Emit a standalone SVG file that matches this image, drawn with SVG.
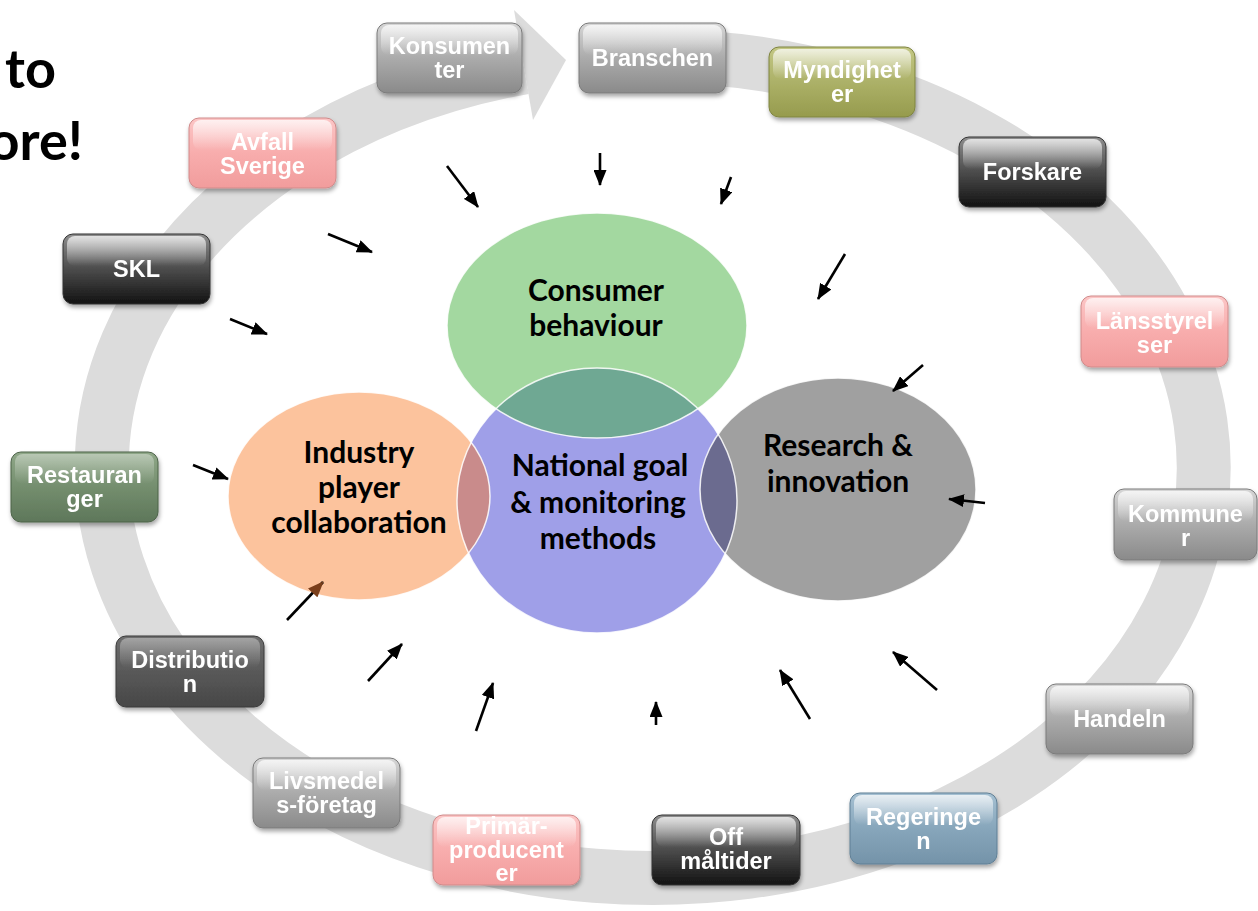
<svg xmlns="http://www.w3.org/2000/svg" width="1258" height="911" viewBox="0 0 1258 911">
<defs>
<style>
.bt{font-family:"Liberation Sans",Arial,sans-serif;font-weight:bold;font-size:23.5px;fill:#fff;text-anchor:middle}
.ct{font-family:Lato,"Open Sans",sans-serif;font-weight:bold;font-size:30px;fill:#000;text-anchor:middle}
.tt{font-family:Lato,"Open Sans",sans-serif;font-weight:bold;font-size:54px;fill:#000;text-anchor:end}
.hl{fill:url(#gHl)}
.bx{stroke-width:1}
.edge{fill:none;stroke:#fff;stroke-width:1.5;stroke-opacity:0.85}
.ar{stroke:#000;stroke-width:2.6;fill:none;marker-end:url(#ah)}
</style>
<linearGradient id="gGray" x1="0" y1="0" x2="0" y2="1"><stop offset="0" stop-color="#d6d6d6"/><stop offset="0.5" stop-color="#ababab"/><stop offset="1" stop-color="#8a8a8a"/></linearGradient>
<linearGradient id="gDark" x1="0" y1="0" x2="0" y2="1"><stop offset="0" stop-color="#8e8e8e"/><stop offset="0.5" stop-color="#4c4c4c"/><stop offset="1" stop-color="#121212"/></linearGradient>
<linearGradient id="gDg" x1="0" y1="0" x2="0" y2="1"><stop offset="0" stop-color="#6e6e6e"/><stop offset="0.5" stop-color="#595959"/><stop offset="1" stop-color="#474747"/></linearGradient>
<linearGradient id="gPink" x1="0" y1="0" x2="0" y2="1"><stop offset="0" stop-color="#fcc6c6"/><stop offset="0.5" stop-color="#f8adad"/><stop offset="1" stop-color="#f19c9c"/></linearGradient>
<linearGradient id="gOlive" x1="0" y1="0" x2="0" y2="1"><stop offset="0" stop-color="#c3c784"/><stop offset="0.5" stop-color="#acb168"/><stop offset="1" stop-color="#969b4d"/></linearGradient>
<linearGradient id="gBlue" x1="0" y1="0" x2="0" y2="1"><stop offset="0" stop-color="#a5c0d2"/><stop offset="0.5" stop-color="#87a6bb"/><stop offset="1" stop-color="#7493a9"/></linearGradient>
<linearGradient id="gGreen" x1="0" y1="0" x2="0" y2="1"><stop offset="0" stop-color="#8fa788"/><stop offset="0.5" stop-color="#748e6e"/><stop offset="1" stop-color="#5e775a"/></linearGradient>
<linearGradient id="gHl" x1="0" y1="0" x2="0" y2="1"><stop offset="0" stop-color="#fff" stop-opacity="0.75"/><stop offset="1" stop-color="#fff" stop-opacity="0"/></linearGradient>
<filter id="sh" x="-10%" y="-10%" width="125%" height="135%"><feDropShadow dx="1" dy="3" stdDeviation="2" flood-color="#000" flood-opacity="0.35"/></filter>
<marker id="ah" viewBox="0 0 16 13" refX="15" refY="6.5" markerWidth="16" markerHeight="13" markerUnits="userSpaceOnUse" orient="auto"><path d="M0,0 L16,6.5 L0,13 z" fill="#000"/></marker>
<marker id="ahb" viewBox="0 0 16 13" refX="15" refY="6.5" markerWidth="16" markerHeight="13" markerUnits="userSpaceOnUse" orient="auto"><path d="M0,0 L16,6.5 L0,13 z" fill="#7a3f1c"/></marker>
<clipPath id="cPurple"><ellipse cx="597" cy="500.5" rx="140" ry="132.5"/></clipPath>
</defs>
<rect width="1258" height="911" fill="#fff"/>

<!-- title fragments -->
<g id="title">
<text class="tt" x="56" y="88">to</text>
<text class="tt" x="83" y="160">ore!</text>
</g>

<!-- circular arrow band -->
<g id="cycle">
<path d="M590,58.7 A551,411 0 1 1 524,67.4" fill="none" stroke="#dcdcdc" stroke-width="54"/>
<polygon points="514,10 533,120 566,60" fill="#dcdcdc"/>
</g>

<!-- central ellipses -->
<g id="n-national">
<ellipse cx="597" cy="500.5" rx="140" ry="132.5" fill="#9f9fe8"/>
</g>
<g id="n-industry">
<ellipse cx="359" cy="496" rx="131" ry="104" fill="#fcc39d"/>
</g>
<g id="n-research">
<ellipse cx="838" cy="489.5" rx="138" ry="111.5" fill="#a0a0a0"/>
</g>
<g id="n-consumer">
<ellipse cx="597" cy="325.5" rx="150" ry="112.5" fill="#a3d8a0"/>
</g>
<g id="overlaps" clip-path="url(#cPurple)">
<ellipse cx="597" cy="325.5" rx="150" ry="112.5" fill="#6fa893"/>
<ellipse cx="359" cy="496" rx="131" ry="104" fill="#c98b8b"/>
<ellipse cx="838" cy="489.5" rx="138" ry="111.5" fill="#6b6b8f"/>
</g>
<g id="edges">
<ellipse class="edge" cx="597" cy="500.5" rx="140" ry="132.5"/>
<ellipse class="edge" cx="359" cy="496" rx="131" ry="104"/>
<ellipse class="edge" cx="838" cy="489.5" rx="138" ry="111.5"/>
<ellipse class="edge" cx="597" cy="325.5" rx="150" ry="112.5"/>
</g>
<g id="labels">
<text class="ct" x="596" y="301">Consumer</text>
<text class="ct" x="596" y="336">behaviour</text>
<text class="ct" x="359" y="463">Industry</text>
<text class="ct" x="359" y="498">player</text>
<text class="ct" x="359" y="533">collaboration</text>
<text class="ct" x="600" y="476">National goal</text>
<text class="ct" x="598" y="513">&amp; monitoring</text>
<text class="ct" x="598" y="549">methods</text>
<text class="ct" x="838" y="456">Research &amp;</text>
<text class="ct" x="838" y="492">innovation</text>
</g>

<!-- connectors -->
<g id="connectors">
<line class="ar" x1="447" y1="166" x2="478" y2="207"/>
<line class="ar" x1="600" y1="153" x2="600" y2="185"/>
<line class="ar" x1="731" y1="177" x2="721" y2="204"/>
<line class="ar" x1="845" y1="254" x2="818" y2="299"/>
<line class="ar" x1="328" y1="234" x2="372" y2="252"/>
<line class="ar" x1="230" y1="319" x2="267" y2="334"/>
<line class="ar" x1="923" y1="365" x2="893" y2="391"/>
<line class="ar" x1="985" y1="503" x2="949" y2="499"/>
<line class="ar" x1="193" y1="465" x2="228" y2="479"/>
<line class="ar" x1="287" y1="620" x2="323" y2="582" style="marker-end:url(#ahb)"/>
<line class="ar" x1="368" y1="681" x2="402" y2="644"/>
<line class="ar" x1="476" y1="731" x2="493" y2="683"/>
<line class="ar" x1="656" y1="725" x2="656" y2="702"/>
<line class="ar" x1="810" y1="719" x2="780" y2="670"/>
<line class="ar" x1="937" y1="690" x2="893" y2="652"/>
</g>

<!-- boxes -->
<g id="n-konsumenter" filter="url(#sh)">
<rect x="377" y="23" width="145" height="70" rx="10" fill="url(#gGray)" stroke="#7a7a7a" class="bx"/>
<rect x="381" y="25" width="137" height="30" rx="8" class="hl"/>
<text class="bt" x="449.5" y="54">Konsumen</text><text class="bt" x="449.5" y="78">ter</text>
</g>
<g id="n-branschen" filter="url(#sh)">
<rect x="579" y="23" width="147" height="70" rx="10" fill="url(#gGray)" stroke="#7a7a7a" class="bx"/>
<rect x="583" y="25" width="139" height="30" rx="8" class="hl"/>
<text class="bt" x="652.5" y="66">Branschen</text>
</g>
<g id="n-myndigheter" filter="url(#sh)">
<rect x="769" y="47" width="146" height="70" rx="10" fill="url(#gOlive)" stroke="#7f8440" class="bx"/>
<rect x="773" y="49" width="138" height="30" rx="8" class="hl"/>
<text class="bt" x="842" y="78">Myndighet</text><text class="bt" x="842" y="102">er</text>
</g>
<g id="n-forskare" filter="url(#sh)">
<rect x="959" y="137" width="147" height="70" rx="10" fill="url(#gDark)" stroke="#333" class="bx"/>
<rect x="963" y="139" width="139" height="30" rx="8" class="hl"/>
<text class="bt" x="1032.5" y="180">Forskare</text>
</g>
<g id="n-lansstyrelser" filter="url(#sh)">
<rect x="1081" y="296" width="147" height="71" rx="10" fill="url(#gPink)" stroke="#d08a8a" class="bx"/>
<rect x="1085" y="298" width="139" height="30" rx="8" class="hl"/>
<text class="bt" x="1154.5" y="329">Länsstyrel</text><text class="bt" x="1154.5" y="353">ser</text>
</g>
<g id="n-kommuner" filter="url(#sh)">
<rect x="1114" y="489" width="143" height="71" rx="10" fill="url(#gGray)" stroke="#7a7a7a" class="bx"/>
<rect x="1118" y="491" width="135" height="30" rx="8" class="hl"/>
<text class="bt" x="1185.5" y="522">Kommune</text><text class="bt" x="1185.5" y="546">r</text>
</g>
<g id="n-handeln" filter="url(#sh)">
<rect x="1046" y="684" width="147" height="70" rx="10" fill="url(#gGray)" stroke="#7a7a7a" class="bx"/>
<rect x="1050" y="686" width="139" height="30" rx="8" class="hl"/>
<text class="bt" x="1119.5" y="727">Handeln</text>
</g>
<g id="n-regeringen" filter="url(#sh)">
<rect x="850" y="793" width="147" height="71" rx="10" fill="url(#gBlue)" stroke="#5f7f95" class="bx"/>
<rect x="854" y="795" width="139" height="30" rx="8" class="hl"/>
<text class="bt" x="923.5" y="825">Regeringe</text><text class="bt" x="923.5" y="849">n</text>
</g>
<g id="n-offmaltider" filter="url(#sh)">
<rect x="652" y="815" width="148" height="70" rx="10" fill="url(#gDark)" stroke="#333" class="bx"/>
<rect x="656" y="817" width="140" height="30" rx="8" class="hl"/>
<text class="bt" x="726" y="845">Off</text><text class="bt" x="726" y="869">måltider</text>
</g>
<g id="n-primarproducenter" filter="url(#sh)">
<rect x="433" y="815" width="147" height="70" rx="10" fill="url(#gPink)" stroke="#d08a8a" class="bx"/>
<rect x="437" y="817" width="139" height="30" rx="8" class="hl"/>
<text class="bt" x="506.5" y="834">Primär-</text><text class="bt" x="506.5" y="858">producent</text><text class="bt" x="506.5" y="881">er</text>
</g>
<g id="n-livsmedelsforetag" filter="url(#sh)">
<rect x="253" y="758" width="147" height="70" rx="10" fill="url(#gGray)" stroke="#7a7a7a" class="bx"/>
<rect x="257" y="760" width="139" height="30" rx="8" class="hl"/>
<text class="bt" x="326.5" y="789">Livsmedel</text><text class="bt" x="326.5" y="813">s-företag</text>
</g>
<g id="n-distribution" filter="url(#sh)">
<rect x="116" y="636" width="148" height="71" rx="10" fill="url(#gDg)" stroke="#3a3a3a" class="bx"/>
<rect x="120" y="638" width="140" height="30" rx="8" class="hl" opacity="0.5"/>
<text class="bt" x="190" y="668">Distributio</text><text class="bt" x="190" y="692">n</text>
</g>
<g id="n-restauranger" filter="url(#sh)">
<rect x="11" y="452" width="147" height="70" rx="10" fill="url(#gGreen)" stroke="#4d6349" class="bx"/>
<rect x="15" y="454" width="139" height="30" rx="8" class="hl" opacity="0.5"/>
<text class="bt" x="84.5" y="483">Restauran</text><text class="bt" x="84.5" y="507">ger</text>
</g>
<g id="n-skl" filter="url(#sh)">
<rect x="63" y="234" width="147" height="70" rx="10" fill="url(#gDark)" stroke="#333" class="bx"/>
<rect x="67" y="236" width="139" height="30" rx="8" class="hl"/>
<text class="bt" x="136.5" y="277">SKL</text>
</g>
<g id="n-avfallsverige" filter="url(#sh)">
<rect x="189" y="118" width="147" height="70" rx="10" fill="url(#gPink)" stroke="#d08a8a" class="bx"/>
<rect x="193" y="120" width="139" height="30" rx="8" class="hl"/>
<text class="bt" x="262.5" y="150">Avfall</text><text class="bt" x="262.5" y="174">Sverige</text>
</g>
</svg>
